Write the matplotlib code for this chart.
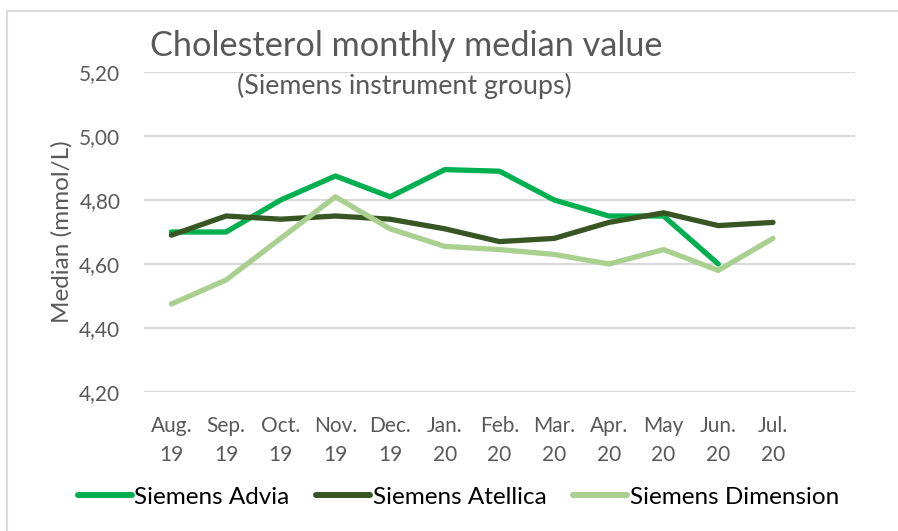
import matplotlib
matplotlib.use('Agg')
import matplotlib.pyplot as plt
from matplotlib.lines import Line2D
from matplotlib.ticker import FuncFormatter

plt.rcParams['font.family'] = ['Lato', 'DejaVu Sans']

# data
months = ['Aug.\n19', 'Sep.\n19', 'Oct.\n19', 'Nov.\n19', 'Dec.\n19', 'Jan.\n20',
          'Feb.\n20', 'Mar.\n20', 'Apr.\n20', 'May\n20', 'Jun.\n20', 'Jul.\n20']
advia = [4.70, 4.70, 4.80, 4.875, 4.81, 4.895, 4.89, 4.80, 4.75, 4.75, 4.60, None]
atellica = [4.69, 4.75, 4.74, 4.75, 4.74, 4.71, 4.67, 4.68, 4.73, 4.76, 4.72, 4.73]
dimension = [4.475, 4.55, 4.68, 4.81, 4.71, 4.655, 4.645, 4.63, 4.60, 4.645, 4.58, 4.68]

series = [('Siemens Advia', advia, '#00B050'),
          ('Siemens Atellica', atellica, '#375623'),
          ('Siemens Dimension', dimension, '#A9D08E')]

W, H = 898, 531
fig = plt.figure(figsize=(W / 100, H / 100), dpi=100)
ax = fig.add_axes([144 / W, 1 - 392 / H, (855 - 144) / W, (392 - 72) / H])

x = list(range(len(months)))
for name, vals, color in series:
    xs = [i for i, v in zip(x, vals) if v is not None]
    ys = [v for v in vals if v is not None]
    ax.plot(xs, ys, color=color, linewidth=3.8, label=name,
            solid_capstyle='round', solid_joinstyle='round')

ax.set_xlim(-0.5, 12.5)
ax.set_ylim(4.2, 5.2)
ax.set_yticks([4.2, 4.4, 4.6, 4.8, 5.0, 5.2])
ax.yaxis.set_major_formatter(FuncFormatter(lambda v, p: f'{v:.2f}'.replace('.', ',')))
ax.set_xticks(x)
ax.set_xticklabels(months, linespacing=1.6)
ax.tick_params(axis='both', length=0, labelcolor='#595959', labelsize=15)
ax.tick_params(axis='y', pad=17)
ax.tick_params(axis='x', pad=17)
ax.grid(axis='y', color='#D9D9D9', linewidth=1.5)
ax.set_axisbelow(True)
for s in ax.spines.values():
    s.set_visible(False)

ax.set_ylabel('Median (mmol/L)', fontsize=17.5, color='#595959', labelpad=5)

fig.text(150 / W, 1 - 56 / H, 'Cholesterol monthly median value',
         fontsize=24.7, color='#595959')
fig.text(237 / W, 1 - 86 / H, '(Siemens instrument groups)',
         fontsize=19.3, color='#595959', va='center')

leg = fig.legend(loc='center', bbox_to_anchor=(458.5 / W, 1 - 497 / H), ncol=3,
                 frameon=False, fontsize=17.5, handlelength=2.2, handletextpad=0.12,
                 columnspacing=1.1, labelcolor='#000000')
for h in leg.get_lines():
    h.set_linewidth(4.3)

# outer chart border (left and top visible)
fig.add_artist(Line2D([7 / W, 7 / W], [0, 1 - 11 / H], color='#D9D9D9', linewidth=1.5))
fig.add_artist(Line2D([7 / W, 1], [1 - 11 / H, 1 - 11 / H], color='#D9D9D9', linewidth=1.5))

fig.savefig('out.png', dpi=100)
